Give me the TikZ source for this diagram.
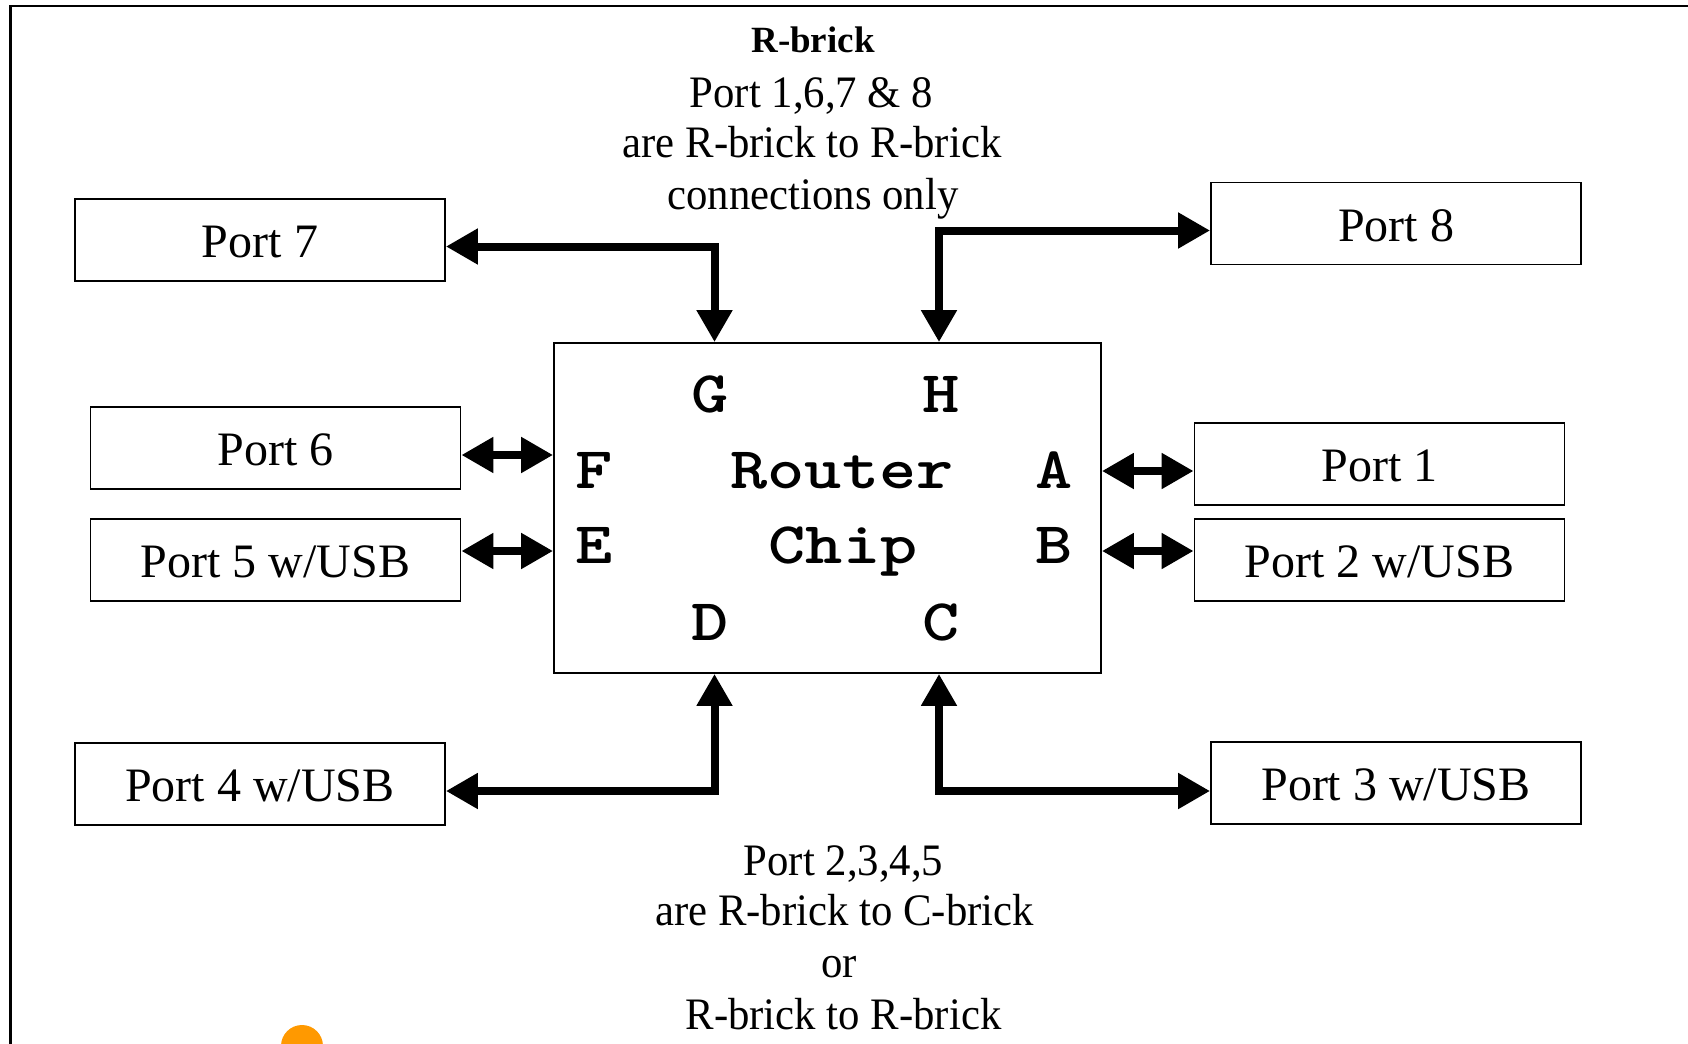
\documentclass[tikz,border=0pt]{standalone}
\usepackage{fontspec}
\setmainfont{Liberation Serif}
\newfontfamily\notefont{Liberation Serif}[FakeStretch=0.95]
\newfontfamily\chipfont{lmmonolt10-bold}[Extension=.otf, FakeStretch=1.2]
\usetikzlibrary{arrows.meta}
\definecolor{dotorange}{RGB}{255,153,0}
\tikzset{
  portbox/.style={draw, line width=0.9pt, minimum width=185pt, minimum height=41pt,
    inner sep=0pt, text height=17.9pt, text depth=0pt,
    font=\fontsize{24}{28}\selectfont},
  chipbox/.style={draw, line width=0.9pt, minimum width=273.5pt, minimum height=165pt, inner sep=0pt},
  pin/.style={anchor=base, inner sep=0pt, font=\chipfont\fontsize{29.5}{32}\selectfont},
  note/.style={anchor=base, inner sep=0pt, font=\notefont\fontsize{22.5}{26}\selectfont},
  link/.style={line width=4pt, line join=miter,
    {Triangle[length=16pt,width=17pt]}-{Triangle[length=16pt,width=17pt]}}
}
\begin{document}
\begin{tikzpicture}[x=0.5pt,y=-0.5pt]
\useasboundingbox (0,0) rectangle (1688,1044);

% outer frame and the dot at the bottom edge
\draw[line width=1.1pt] (10.5,1044) -- (10.5,6) -- (1688,6);
\fill[dotorange] (302,1046) circle[radius=10.5pt];

% router chip
\node[chipbox] (router) at (827.5,508) {};
\node[pin] (pinG) at (710,412) {G};
\node[pin] (pinH) at (941,412) {H};
\node[pin] (pinF) at (594,488) {F};
\node[pin] (chipA) at (842,488) {Router};
\node[pin] (pinA) at (1054,488) {A};
\node[pin] (pinE) at (594,563) {E};
\node[pin] (chipB) at (843,563) {Chip};
\node[pin] (pinB) at (1054,563) {B};
\node[pin] (pinD) at (710,640) {D};
\node[pin] (pinC) at (941,640) {C};

% ports
\node[portbox] (p7) at (260,240) {Port 7};
\node[portbox] (p8) at (1396,223.5) {Port 8};
\node[portbox] (p6) at (275.5,448) {Port 6};
\node[portbox] (p5) at (275.5,560) {Port 5 w/USB};
\node[portbox] (p1) at (1379.5,464) {Port 1};
\node[portbox] (p2) at (1379.5,560) {Port 2 w/USB};
\node[portbox] (p4) at (260,784) {Port 4 w/USB};
\node[portbox] (p3) at (1396,783) {Port 3 w/USB};

% connections above and below the chip
\draw[link] ([xshift=-56.5pt]router.north) |- ([yshift=-3.25pt]p7.east);
\draw[link] ([xshift=55.75pt]router.north) |- ([yshift=-3.5pt]p8.west);
\draw[link] ([xshift=-56.5pt]router.south) |- ([yshift=-3.5pt]p4.east);
\draw[link] ([xshift=55.75pt]router.south) |- ([yshift=-4pt]p3.west);

% side connections
\coordinate (endF) at ([yshift=-3.5pt]p6.east);
\coordinate (endE) at ([yshift=4.5pt]p5.east);
\coordinate (endA) at ([yshift=-3.5pt]p1.west);
\coordinate (endB) at ([yshift=4.5pt]p2.west);
\draw[link] (endF) -- (endF -| router.west);
\draw[link] (endE) -- (endE -| router.west);
\draw[link] (endA) -- (endA -| router.east);
\draw[link] (endB) -- (endB -| router.east);

% notes
\node[note, font=\bfseries\fontsize{18.5}{22}\selectfont] (title) at (813,53) {R-brick};
\node[note] (top1) at (811.5,107) {Port 1,6,7 \& 8};
\node[note] (top2) at (812,157) {are R-brick to R-brick};
\node[note] (top3) at (813,209) {connections only};
\node[note] (bot1) at (843.5,875) {Port 2,3,4,5};
\node[note] (bot2) at (844.5,925) {are R-brick to C-brick};
\node[note] (bot3) at (839,977) {or};
\node[note] (bot4) at (843.5,1029) {R-brick to R-brick};
\end{tikzpicture}
\end{document}
